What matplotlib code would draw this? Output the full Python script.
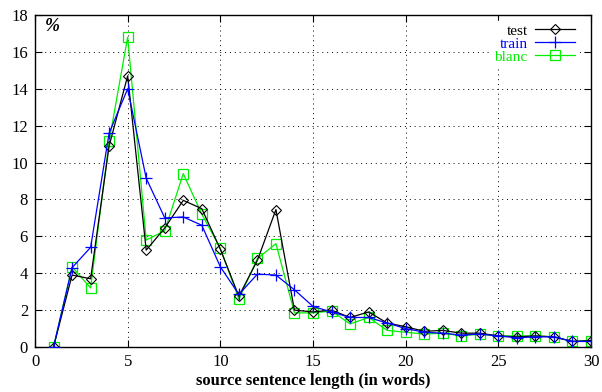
import matplotlib.pyplot as plt

plt.rcParams['font.family'] = ['Liberation Serif', 'DejaVu Serif']

# sentence length (words)
lengths = list(range(1, 31))

# distribution in % per corpus
test = [0, 3.9, 3.7, 10.9, 14.7, 5.25, 6.45, 7.95, 7.5, 5.3,
        2.75, 4.7, 7.45, 2.0, 1.9, 2.0, 1.6, 1.9, 1.3, 1.1,
        0.85, 0.9, 0.75, 0.75, 0.6, 0.55, 0.6, 0.55, 0.3, 0.35]
train = [0, 4.3, 5.4, 11.6, 14.0, 9.15, 7.0, 7.05, 6.6, 4.35,
         2.85, 3.95, 3.9, 3.1, 2.2, 1.9, 1.6, 1.6, 1.3, 1.0,
         0.8, 0.75, 0.65, 0.7, 0.6, 0.5, 0.55, 0.55, 0.3, 0.3]
blanc = [0, 4.35, 3.2, 11.15, 16.8, 5.8, 6.3, 9.4, 7.2, 5.35,
         2.6, 4.8, 5.6, 1.85, 1.85, 1.95, 1.25, 1.6, 0.9, 0.8,
         0.7, 0.75, 0.6, 0.7, 0.6, 0.6, 0.6, 0.55, 0.3, 0.35]

xticks = [0, 5, 10, 15, 20, 25, 30]
yticks = [0, 2, 4, 6, 8, 10, 12, 14, 16, 18]

fig = plt.figure(figsize=(6.02, 3.92), dpi=100)
ax = fig.add_axes([35 / 602, 1 - 347 / 392, 556 / 602, 332 / 392])

ax.plot(lengths, test, color='black', lw=0.9, marker='D', ms=5,
        mfc='none', mec='black', mew=0.8, label='test', zorder=3)
ax.plot(lengths, train, color='#0000ff', lw=0.9, marker='+', ms=8,
        mew=0.9, label='train', zorder=4)
ax.plot(lengths, blanc, color='#00ee00', lw=0.9, marker='s', ms=7,
        mfc='none', mec='#00ee00', mew=0.9, label='blanc', zorder=2)

ax.set_xlim(0, 30)
ax.set_ylim(0, 18)
ax.set_xticks(xticks)
ax.set_yticks(yticks)
ax.tick_params(direction='in', top=True, right=True, length=5, width=0.8,
               labelsize=12, pad=5)
ax.grid(True, color='black', linestyle=(0, (1, 4)), linewidth=0.7)
for s in ax.spines.values():
    s.set_linewidth(1.0)

ax.set_xlabel('source sentence length (in words)', fontsize=12,
              fontweight='bold', labelpad=2)
ax.text(0.55, 17.4, '%', fontsize=13, fontweight='bold', fontstyle='italic',
        va='center', ha='left')

leg = ax.legend(loc='upper right', bbox_to_anchor=(578 / 602, 1 - 21 / 392),
                bbox_transform=fig.transFigure, markerfirst=False,
                frameon=True, fontsize=11, handlelength=2.6,
                handletextpad=0.5, labelspacing=-0.05, borderpad=0.2,
                borderaxespad=0, fancybox=False,
                labelcolor=['black', '#0000ff', '#00ee00'])
leg.get_frame().set_edgecolor('white')
leg.get_frame().set_alpha(1.0)
for t in leg.get_texts():
    t.set_ha('right')
leg.set_zorder(5)

fig.savefig('out.png', dpi=100)
